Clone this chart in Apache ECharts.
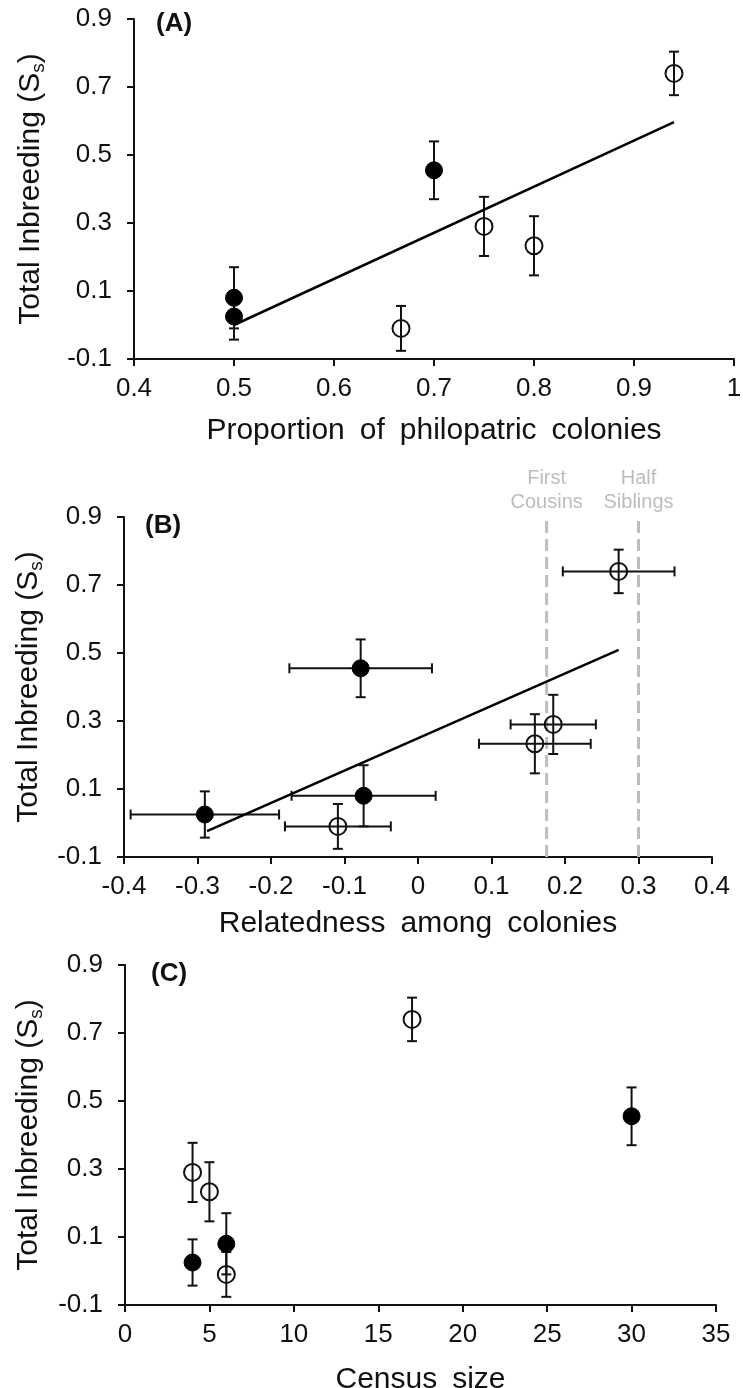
<!DOCTYPE html>
<html>
<head>
<meta charset="utf-8">
<script src="https://cdn.jsdelivr.net/npm/echarts@6/dist/echarts.min.js"></script>
<style>
html,body{margin:0;padding:0;background:#fff;}
#chart{width:743px;height:1388px;}
</style>
</head>
<body>
<div id="chart"></div>
<script>
// ---- data (one entry per population) ----
const totalInbreeding = [0.025, 0.08, 0.455, -0.01, 0.29, 0.233, 0.74];
const inbreedingErr   = [0.068, 0.09, 0.085, 0.066, 0.087, 0.087, 0.064];
const philopatry      = [0.5, 0.5, 0.7, 0.667, 0.75, 0.8, 0.94];
const relatedness     = [-0.29, -0.074, -0.078, -0.109, 0.184, 0.159, 0.273];
const relatednessErr  = [0.101, 0.098, 0.097, 0.072, 0.058, 0.076, 0.076];
const censusSize      = [4, 6, 30, 6, 4, 5, 17];
const isFilled        = [true, true, true, false, false, false, false];

// fitted trend lines (end points)
const trendA_x = [0.5, 0.94];
const trendA_y = [0.0, 0.597];
const trendB_x = [-0.287, 0.273];
const trendB_y = [-0.024, 0.509];

// kinship reference lines in panel B
const kinshipX = [0.175, 0.3];
const kinshipLabels = ['First\nCousins', 'Half\nSiblings'];

// axis ranges / tick steps
const yRange = [-0.1, 0.9], yStep = 0.2;
const xRangeA = [0.4, 1.0], xStepA = 0.1;
const xRangeB = [-0.4, 0.4], xStepB = 0.1;
const xRangeC = [0, 35], xStepC = 5;

const panelLabels = ['(A)', '(B)', '(C)'];
const SP = '\u2002';
const xTitles = ['Proportion' + SP + 'of' + SP + 'philopatric' + SP + 'colonies',
                 'Relatedness' + SP + 'among' + SP + 'colonies',
                 'Census' + SP + 'size'];
const yTitle = 'Total Inbreeding (S{s|s})';

// ---- styling ----
const FONT = "'Liberation Sans', Arial, sans-serif";
const INK = '#111';
const fmt1 = v => String(Math.round(v * 10) / 10);

function xAxisDef(gi, range, step, title, gap, formatter) {
  return {
    type: 'value', gridIndex: gi, min: range[0], max: range[1], interval: step,
    name: title, nameLocation: 'middle', nameGap: gap,
    nameTextStyle: { fontSize: 30, fontFamily: FONT, color: INK },
    axisLine: { onZero: false, lineStyle: { color: INK, width: 2 } },
    axisTick: { show: true, length: 7, lineStyle: { color: INK, width: 2 } },
    axisLabel: { fontSize: 26, fontFamily: FONT, color: INK, margin: 17, formatter: formatter },
    splitLine: { show: false }
  };
}
function yAxisDef(gi, gap) {
  return {
    type: 'value', gridIndex: gi, min: yRange[0], max: yRange[1], interval: yStep,
    name: yTitle, nameLocation: 'middle', nameRotate: 90, nameGap: gap,
    nameTextStyle: {
      fontSize: 30, fontFamily: FONT, color: INK, lineHeight: 34,
      rich: { s: { fontSize: 19, fontFamily: FONT, color: INK, lineHeight: 16, verticalAlign: 'bottom' } }
    },
    axisLine: { onZero: false, lineStyle: { color: INK, width: 2 } },
    axisTick: { show: true, length: 7, lineStyle: { color: INK, width: 2 } },
    axisLabel: { fontSize: 26, fontFamily: FONT, color: INK, margin: 22, formatter: fmt1 },
    splitLine: { show: false }
  };
}

// error bar renderer: value = [x, y, yErr, xErr]
function errRender(params, api) {
  const x = api.value(0), y = api.value(1), ey = api.value(2), ex = api.value(3);
  const cap = 5;
  const st = { stroke: INK, lineWidth: 2 };
  const kids = [];
  const t = api.coord([x, y + ey]), b = api.coord([x, y - ey]);
  kids.push({ type: 'line', shape: { x1: t[0], y1: t[1], x2: b[0], y2: b[1] }, style: st });
  kids.push({ type: 'line', shape: { x1: t[0] - cap, y1: t[1], x2: t[0] + cap, y2: t[1] }, style: st });
  kids.push({ type: 'line', shape: { x1: b[0] - cap, y1: b[1], x2: b[0] + cap, y2: b[1] }, style: st });
  if (ex > 0) {
    const l = api.coord([x - ex, y]), r = api.coord([x + ex, y]);
    kids.push({ type: 'line', shape: { x1: l[0], y1: l[1], x2: r[0], y2: r[1] }, style: st });
    kids.push({ type: 'line', shape: { x1: l[0], y1: l[1] - cap, x2: l[0], y2: l[1] + cap }, style: st });
    kids.push({ type: 'line', shape: { x1: r[0], y1: r[1] - cap, x2: r[0], y2: r[1] + cap }, style: st });
  }
  return { type: 'group', children: kids };
}

function errSeries(gi, xs, xerr) {
  return {
    type: 'custom', xAxisIndex: gi, yAxisIndex: gi, renderItem: errRender, z: 2,
    encode: { x: 0, y: 1 }, silent: true,
    data: xs.map((x, i) => [x, totalInbreeding[i], inbreedingErr[i], xerr ? xerr[i] : 0])
  };
}
function pointSeries(gi, xs) {
  return {
    type: 'scatter', xAxisIndex: gi, yAxisIndex: gi, symbol: 'circle', symbolSize: 17, z: 4,
    silent: true,
    data: xs.map((x, i) => ({
      value: [x, totalInbreeding[i]],
      itemStyle: isFilled[i]
        ? { color: '#000', borderColor: '#000', borderWidth: 1, opacity: 1 }
        : { color: 'rgba(255,255,255,0)', borderColor: INK, borderWidth: 2, opacity: 1 }
    }))
  };
}
function trendSeries(gi, xs, ys) {
  return {
    type: 'line', xAxisIndex: gi, yAxisIndex: gi, symbol: 'none', z: 3, silent: true,
    lineStyle: { color: '#000', width: 2.5 },
    data: xs.map((x, i) => [x, ys[i]])
  };
}

const series = [
  errSeries(0, philopatry, null), trendSeries(0, trendA_x, trendA_y), pointSeries(0, philopatry),
  errSeries(1, relatedness, relatednessErr), trendSeries(1, trendB_x, trendB_y), pointSeries(1, relatedness),
  errSeries(2, censusSize, null), pointSeries(2, censusSize)
];
kinshipX.forEach((kx, k) => {
  series.push({
    type: 'line', xAxisIndex: 1, yAxisIndex: 1, symbol: 'none', z: 1, silent: true,
    lineStyle: { color: '#bdbdbd', width: 3, type: [12, 6] },
    data: [[kx, yRange[0]], [kx, yRange[1]]]
  });
  series.push({
    type: 'scatter', xAxisIndex: 1, yAxisIndex: 1, symbolSize: 1, silent: true,
    itemStyle: { color: 'rgba(0,0,0,0)' },
    label: {
      show: true, position: 'top', distance: 2, formatter: kinshipLabels[k],
      fontSize: 20, lineHeight: 24, fontFamily: FONT, color: '#ababab', align: 'center'
    },
    data: [[kx, yRange[1]]]
  });
});

const option = {
  backgroundColor: '#fff',
  animation: false,
  title: [
    { text: panelLabels[0], left: 156, top: 11 },
    { text: panelLabels[1], left: 145, top: 513 },
    { text: panelLabels[2], left: 151, top: 961 }
  ].map(t => Object.assign(t, { padding: 0, textStyle: { fontSize: 26, fontWeight: 'bold', fontFamily: FONT, color: INK } })),
  grid: [
    { left: 134, top: 19, width: 600, height: 340, outerBoundsMode: 'none' },
    { left: 124, top: 517, width: 588, height: 340, outerBoundsMode: 'none' },
    { left: 125, top: 965, width: 591, height: 340, outerBoundsMode: 'none' }
  ],
  xAxis: [
    xAxisDef(0, xRangeA, xStepA, xTitles[0], 57, fmt1),
    xAxisDef(1, xRangeB, xStepB, xTitles[1], 52, fmt1),
    xAxisDef(2, xRangeC, xStepC, xTitles[2], 60, v => String(v))
  ],
  yAxis: [yAxisDef(0, 86), yAxisDef(1, 78), yAxisDef(2, 79)],
  series: series
};

const chart = echarts.init(document.getElementById('chart'), null, { renderer: 'canvas' });
chart.setOption(option);
</script>
</body>
</html>
